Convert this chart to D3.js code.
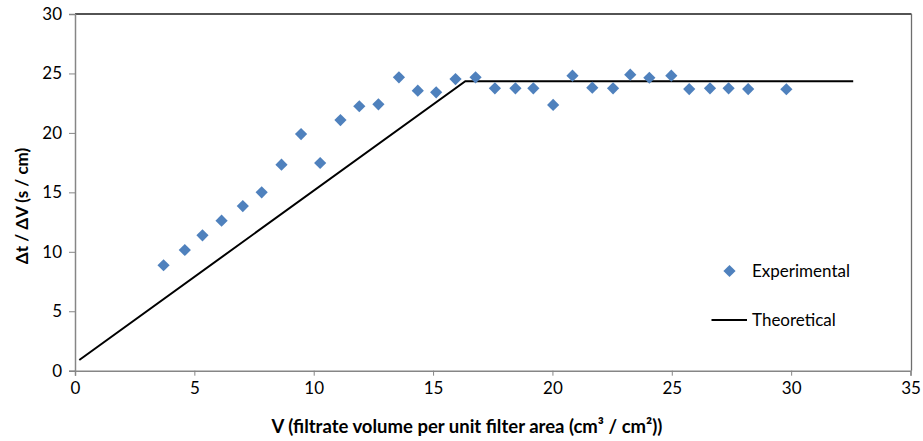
<!DOCTYPE html>
<html>
<head>
<meta charset="utf-8">
<script src="https://cdn.jsdelivr.net/npm/d3@7/dist/d3.min.js"></script>
<style>
  body { margin: 0; background: #fff; }
  svg { display: block; }
  text { font-family: Lato, "Open Sans", sans-serif; fill: #000; }
</style>
</head>
<body>
<svg id="chart" width="923" height="441"></svg>
<script>
// Data
const expV  = [3.71, 4.60, 5.34, 6.14, 7.03, 7.82, 8.65, 9.47, 10.27, 11.12, 11.91, 12.71, 13.57, 14.36, 15.13, 15.94, 16.78, 17.59, 18.45, 19.20, 20.03, 20.84, 21.67, 22.54, 23.26, 24.06, 24.98, 25.73, 26.60, 27.38, 28.20, 29.80];
const expT  = [8.87, 10.15, 11.39, 12.62, 13.85, 15.00, 17.33, 19.90, 17.47, 21.08, 22.24, 22.40, 24.67, 23.55, 23.41, 24.53, 24.67, 23.75, 23.75, 23.75, 22.35, 24.81, 23.80, 23.75, 24.90, 24.64, 24.81, 23.69, 23.75, 23.75, 23.69, 23.67];
const theoV = [0.18, 16.35, 32.60];
const theoT = [0.90, 24.35, 24.35];
const xTicks = [0, 5, 10, 15, 20, 25, 30, 35];
const yTicks = [0, 5, 10, 15, 20, 25, 30];
const seriesNames = ["Experimental", "Theoretical"];
const xTitle = "V (filtrate volume per unit filter area (cm\u00B3 / cm\u00B2))";
const yTitle = "\u0394t / \u0394V (s / cm)";

const svg = d3.select("#chart");
const x = d3.scaleLinear().domain([0, 35]).range([75, 910.5]);
const y = d3.scaleLinear().domain([0, 30]).range([370.7, 14]);
const axisColor = "#868686";
const fs = 17;

// plot frame (top & right)
svg.append("line").attr("x1", x(0)).attr("x2", 911.5).attr("y1", y(30)).attr("y2", y(30))
  .attr("stroke", "#1a1a1a").attr("stroke-width", 1.3);
svg.append("line").attr("x1", 911.5).attr("x2", 911.5).attr("y1", y(30)).attr("y2", y(0))
  .attr("stroke", "#6e6e6e").attr("stroke-width", 1.3);

// axes
const xAxis = svg.append("g").attr("transform", `translate(0,${y(0)})`)
  .call(d3.axisBottom(x).tickValues(xTicks).tickSize(5).tickPadding(6).tickFormat(d3.format("d")));
const yAxis = svg.append("g").attr("transform", `translate(${x(0)},0)`)
  .call(d3.axisLeft(y).tickValues(yTicks).tickSize(6).tickPadding(7).tickFormat(d3.format("d")));
[xAxis, yAxis].forEach(g => {
  g.select(".domain").attr("stroke", axisColor).attr("stroke-width", 1.5);
  g.selectAll(".tick line").attr("stroke", axisColor).attr("stroke-width", 1);
  g.selectAll(".tick text").attr("font-family", "Lato, sans-serif").attr("font-size", fs).attr("fill", "#000");
});

// theoretical line
const line = d3.line().x(d => x(d[0])).y(d => y(d[1]));
svg.append("path").datum(theoV.map((v, i) => [v, theoT[i]]))
  .attr("d", line).attr("fill", "none").attr("stroke", "#000").attr("stroke-width", 2);

// experimental diamonds
const diamond = d3.symbol().type(d3.symbolDiamond2).size(95);
svg.append("g").selectAll("path").data(expV.map((v, i) => [v, expT[i]])).join("path")
  .attr("d", diamond).attr("transform", d => `translate(${x(d[0])},${y(d[1])})`)
  .attr("fill", "#4F81BD");

// legend
svg.append("path").attr("d", diamond).attr("transform", "translate(729.5,271)").attr("fill", "#4F81BD");
svg.append("text").attr("x", 752).attr("y", 271).attr("dy", "0.35em").attr("font-size", fs).text(seriesNames[0]);
svg.append("line").attr("x1", 711.5).attr("x2", 747).attr("y1", 320).attr("y2", 320)
  .attr("stroke", "#000").attr("stroke-width", 2);
svg.append("text").attr("x", 752).attr("y", 320).attr("dy", "0.35em").attr("font-size", fs).text(seriesNames[1]);

// axis titles
svg.append("text").attr("x", 467).attr("y", 433).attr("text-anchor", "middle")
  .attr("font-size", 18.5).attr("font-weight", "bold").text(xTitle);
svg.append("text").attr("transform", "translate(28,206) rotate(-90)").attr("text-anchor", "middle")
  .attr("font-size", fs).attr("font-weight", "bold").text(yTitle);
</script>
</body>
</html>
